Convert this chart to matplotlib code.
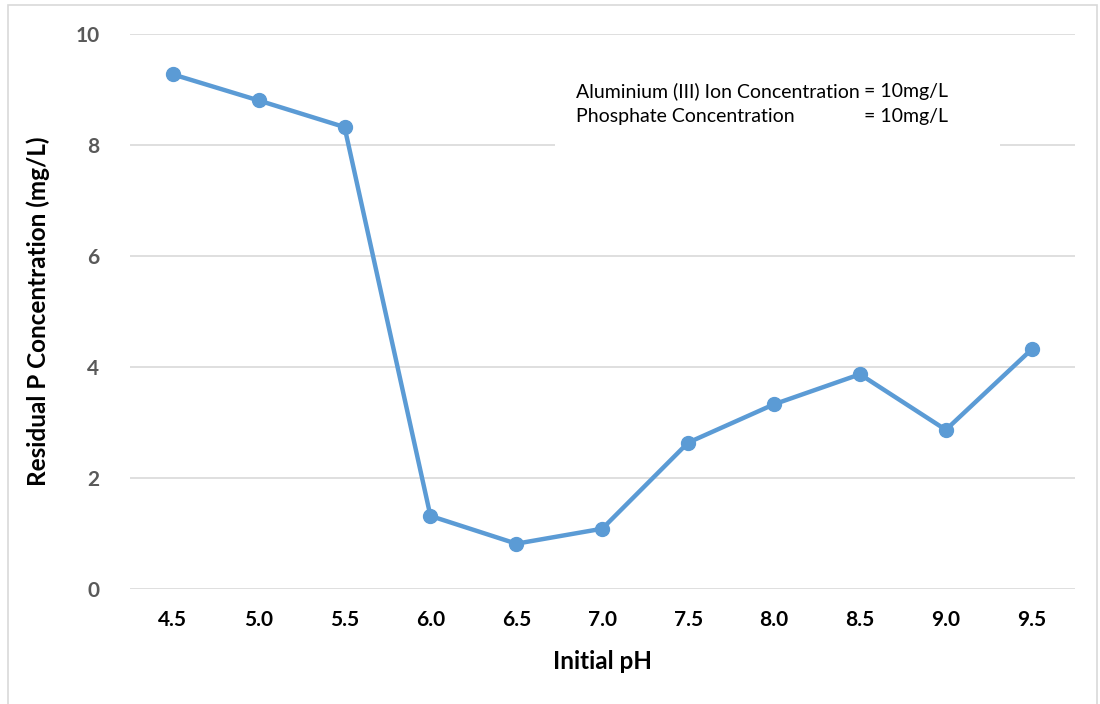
import matplotlib
matplotlib.use("Agg")
import matplotlib.pyplot as plt
from matplotlib.patches import Rectangle

plt.rcParams['font.family'] = ['Lato', 'DejaVu Sans']

# data
ph_labels = ['4.5', '5.0', '5.5', '6.0', '6.5', '7.0', '7.5', '8.0', '8.5', '9.0', '9.5']
residual_p = [9.27, 8.80, 8.32, 1.32, 0.82, 1.09, 2.64, 3.33, 3.87, 2.87, 4.32]
y_ticks = [0, 2, 4, 6, 8, 10]

fig = plt.figure(figsize=(11, 7.04), dpi=100)
ax = fig.add_axes([0.118, 0.163, 0.859, 0.789])

# light outer frame of the chart area
fig.patches.append(Rectangle((0.007, -0.01), 0.99, 1.003, transform=fig.transFigure,
                             fill=False, edgecolor='#d9d9d9', linewidth=1.2))

x = list(range(len(ph_labels)))
ax.plot(x, residual_p, color='#5b9bd5', linewidth=3.2, marker='o', markersize=10,
        zorder=3)

ax.set_xlim(-0.5, len(ph_labels) - 0.5)
ax.set_ylim(0, 10)
ax.set_yticks(y_ticks)
ax.set_yticklabels([str(v) for v in y_ticks], fontsize=15, fontweight='bold', color='#595959')
ax.set_xticks(x)
ax.set_xticklabels(ph_labels, fontsize=15, fontweight='bold', color='black')
ax.tick_params(length=0, pad=15)
ax.tick_params(axis='y', pad=22)
ax.grid(axis='y', color='#d9d9d9', linewidth=1.2, zorder=0)
for s in ax.spines.values():
    s.set_visible(False)
ax.set_axisbelow(True)

ax.set_xlabel('Initial pH', fontsize=17.5, fontweight='bold', labelpad=14)
ax.set_ylabel('Residual P Concentration (mg/L)', fontsize=17.5, fontweight='bold', labelpad=18)

# annotation box (white background hides the gridline behind it)
ax.add_patch(Rectangle((0.45, 0.773), 0.471, 0.2, transform=ax.transAxes,
                       facecolor='white', edgecolor='none', zorder=2))
ax.text(0.472, 0.874, 'Aluminium (III) Ion Concentration\nPhosphate Concentration',
        transform=ax.transAxes, fontsize=14, va='center', ha='left', linespacing=1.6,
        zorder=4)
ax.text(0.777, 0.874, '= 10mg/L\n= 10mg/L',
        transform=ax.transAxes, fontsize=14, va='center', ha='left', linespacing=1.6,
        zorder=4)

fig.savefig('out.png', dpi=100)
